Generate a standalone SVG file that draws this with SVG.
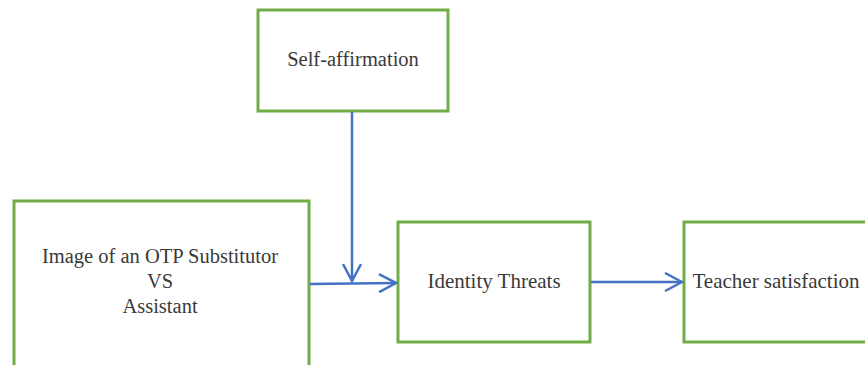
<svg xmlns="http://www.w3.org/2000/svg" width="865" height="365" viewBox="0 0 865 365">
<style>
.box{fill:#fff;stroke:#70AD47;stroke-width:3}
.t{font-family:"Liberation Serif","DejaVu Serif",serif;font-size:21px;fill:#3a3a3a;text-anchor:middle}
.s{font-size:20.5px}
.c{stroke:#4472C4;stroke-width:2.5;fill:none}
</style>
<defs>
<marker id="ah" viewBox="0 0 20 20" refX="18" refY="10" markerWidth="20" markerHeight="20" markerUnits="userSpaceOnUse" orient="auto">
<path d="M1,1 L18,10 L1,19" fill="none" stroke="#4472C4" stroke-width="2.5"/>
</marker>
</defs>
<g id="self-affirmation">
<rect class="box" x="258" y="10" width="190" height="101"/>
<text class="t s" x="353" y="66">Self-affirmation</text>
</g>
<g id="image-otp">
<rect class="box" x="14" y="201" width="295" height="180"/>
<text class="t s" x="160" y="263">Image of an OTP Substitutor</text>
<text class="t s" x="160" y="288">VS</text>
<text class="t s" x="160" y="313">Assistant</text>
</g>
<g id="identity-threats">
<rect class="box" x="398" y="222" width="192" height="120"/>
<text class="t" x="494" y="288">Identity Threats</text>
</g>
<g id="teacher-satisfaction">
<rect class="box" x="684" y="222" width="200" height="120"/>
<text class="t" x="776" y="288">Teacher satisfaction</text>
</g>
<g id="connectors">
<line class="c" x1="352" y1="112" x2="352" y2="281" marker-end="url(#ah)"/>
<line class="c" x1="310" y1="284" x2="396" y2="283" marker-end="url(#ah)"/>
<line class="c" x1="591" y1="282" x2="682" y2="282" marker-end="url(#ah)"/>
</g>
</svg>
